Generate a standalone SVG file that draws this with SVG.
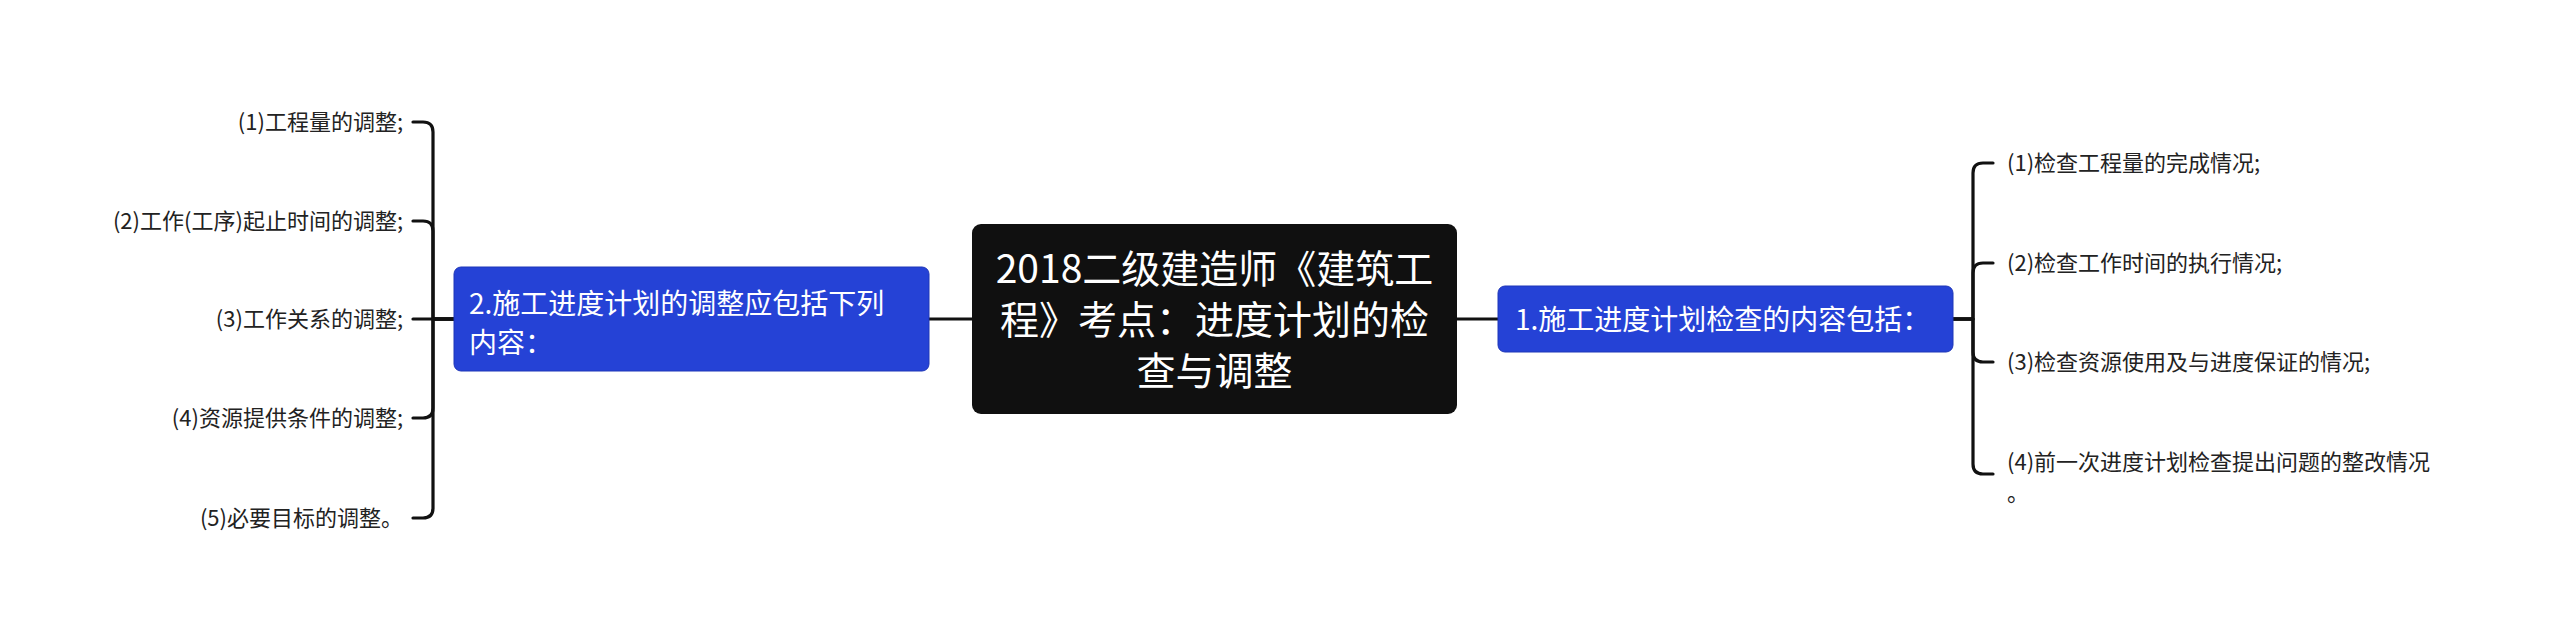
<svg xmlns="http://www.w3.org/2000/svg" width="2560" height="639" viewBox="0 0 2560 639">
<style>
text{font-family:"Noto Sans CJK SC","Noto Sans",sans-serif;}
.c{fill:none;stroke:#111;stroke-width:3.2;stroke-linecap:round;stroke-linejoin:round}
.root{fill:#101010}
.sub{fill:#2542d6;stroke:#1f36b8;stroke-width:1}
.rt{fill:#fff;font-size:39px;text-anchor:middle}
.st{fill:#fff;font-size:28px}
.lt{fill:#222;font-size:22px}
.la{text-anchor:end}
</style>
<rect width="2560" height="639" fill="#fff"/>
<g id="connectors">
<path class="c" d="M972 319 H929"/>
<path class="c" d="M1457 319 H1498"/>
<path class="c" d="M454 319 H433 V132 Q433 122 423 122 H413"/>
<path class="c" d="M454 319 H433 V231 Q433 221 423 221 H413"/>
<path class="c" d="M454 319 H413"/>
<path class="c" d="M454 319 H433 V408 Q433 418 423 418 H413"/>
<path class="c" d="M454 319 H433 V508 Q433 518 423 518 H413"/>
<path class="c" d="M1953 319 H1973 V173 Q1973 163 1983 163 H1993"/>
<path class="c" d="M1953 319 H1973 V273 Q1973 263 1983 263 H1993"/>
<path class="c" d="M1953 319 H1973 V352 Q1973 362 1983 362 H1993"/>
<path class="c" d="M1953 319 H1973 V464 Q1973 474 1983 474 H1993"/>
</g>
<g id="root">
<rect class="root" x="972" y="224" width="485" height="190" rx="9"/>
<text class="rt" x="1214.5" y="283">2018二级建造师《建筑工</text>
<text class="rt" x="1214.5" y="334">程》考点：进度计划的检</text>
<text class="rt" x="1214.5" y="385">查与调整</text>
</g>
<g id="node-left">
<rect class="sub" x="454" y="267" width="475" height="104" rx="7"/>
<text class="st" x="469" y="314">2.施工进度计划的调整应包括下列</text>
<text class="st" x="469" y="353">内容：</text>
</g>
<g id="node-right">
<rect class="sub" x="1498" y="286" width="455" height="66" rx="7"/>
<text class="st" x="1515" y="330">1.施工进度计划检查的内容包括：</text>
</g>
<g id="left-items">
<text class="lt la" x="403" y="130">(1)工程量的调整;</text>
<text class="lt la" x="403" y="229">(2)工作(工序)起止时间的调整;</text>
<text class="lt la" x="403" y="327">(3)工作关系的调整;</text>
<text class="lt la" x="403" y="426">(4)资源提供条件的调整;</text>
<text class="lt la" x="403" y="526">(5)必要目标的调整。</text>
</g>
<g id="right-items">
<text class="lt" x="2007" y="171">(1)检查工程量的完成情况;</text>
<text class="lt" x="2007" y="271">(2)检查工作时间的执行情况;</text>
<text class="lt" x="2007" y="370">(3)检查资源使用及与进度保证的情况;</text>
<text class="lt" x="2007" y="470">(4)前一次进度计划检查提出问题的整改情况</text>
<text class="lt" x="2007" y="501">。</text>
</g>
</svg>
